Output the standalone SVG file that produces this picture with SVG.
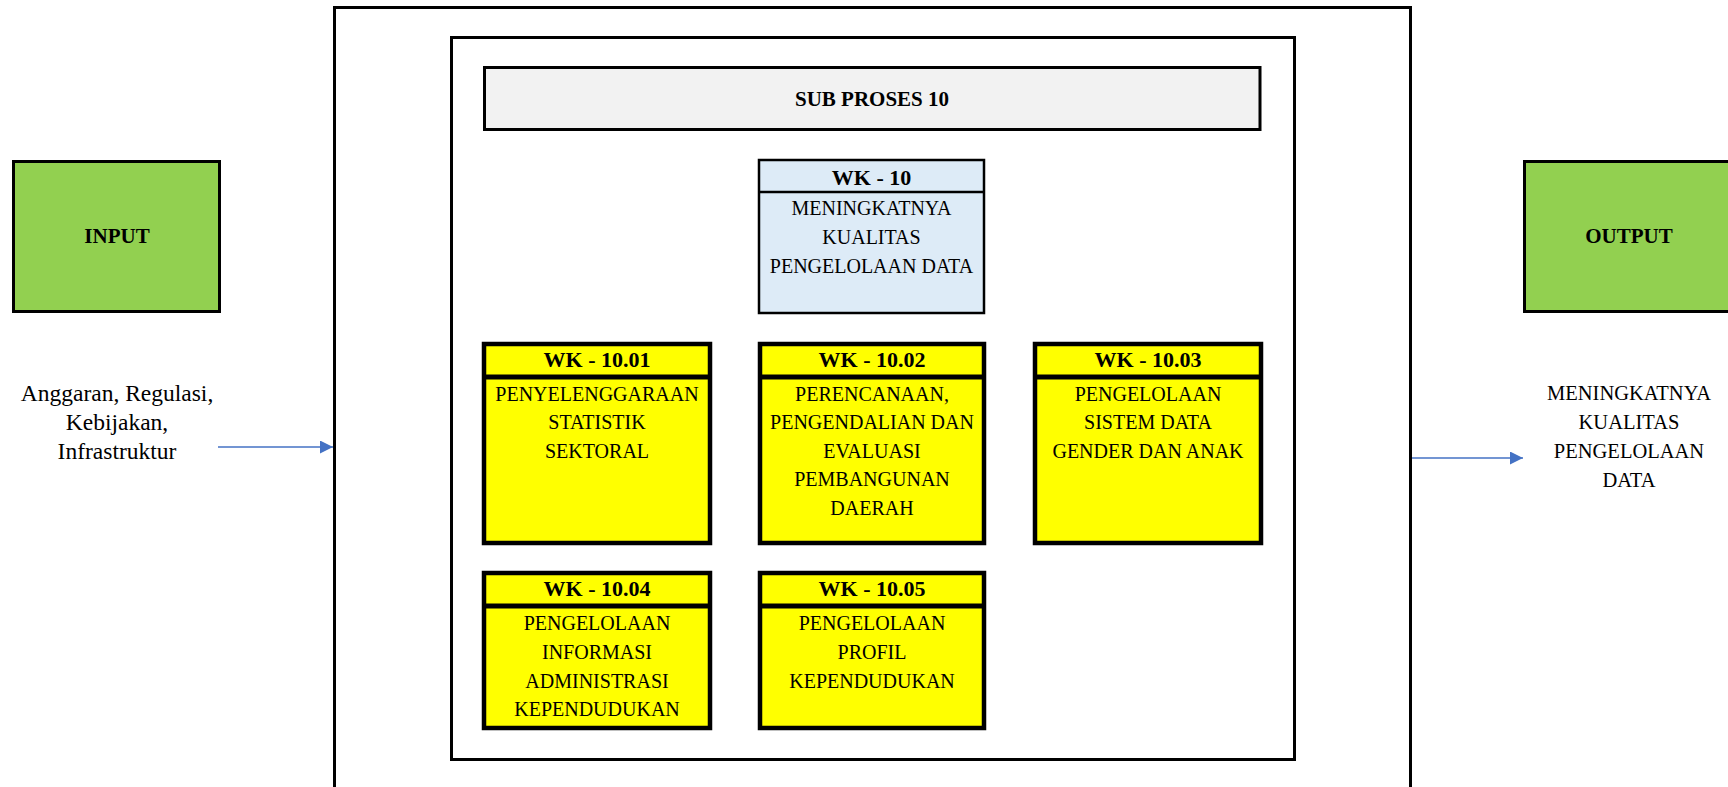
<svg xmlns="http://www.w3.org/2000/svg" width="1728" height="787" viewBox="0 0 1728 787">
<defs>
<style>
.frame{fill:#FFFFFF;stroke:#000;stroke-width:3}
.io{fill:#92D050;stroke:#000;stroke-width:3}
.sub{fill:#F2F2F2;stroke:#000;stroke-width:3}
.goal{fill:#DDEBF7;stroke:#000;stroke-width:2.5}
.goaldiv{stroke:#000;stroke-width:2.5}
.wk{fill:#FFFF00;stroke:#000;stroke-width:4.5}
.wkdiv{stroke:#000;stroke-width:5}
.t{font-family:"Liberation Serif","Times New Roman",serif;font-size:20px;fill:#000;text-anchor:middle}
.o{font-family:"Liberation Serif","Times New Roman",serif;font-size:20.5px;fill:#000;text-anchor:middle}
.h{font-family:"Liberation Serif","Times New Roman",serif;font-size:22px;font-weight:bold;fill:#000;text-anchor:middle}
.b{font-family:"Liberation Serif","Times New Roman",serif;font-size:21px;font-weight:bold;fill:#000;text-anchor:middle}
.lbl{font-family:"Liberation Serif","Times New Roman",serif;font-size:23.5px;fill:#000;text-anchor:middle}
.conn{stroke:#4472C4;stroke-width:1.5;fill:none}
</style>
<marker id="arr" viewBox="0 0 10 10" refX="10" refY="5" markerWidth="13" markerHeight="13" markerUnits="userSpaceOnUse" orient="auto">
<path d="M0,0 L10,5 L0,10 z" fill="#4472C4"/>
</marker>
</defs>
<rect width="1728" height="787" fill="#FFFFFF"/>

<g id="outer-frame"><rect class="frame" x="334.5" y="7.5" width="1076" height="800"/></g>
<g id="inner-frame"><rect class="frame" x="451.5" y="37.5" width="843" height="722"/></g>

<g id="sub-proses">
<rect class="sub" x="484.5" y="67.5" width="775.5" height="62"/>
<text class="b" x="872" y="106">SUB PROSES 10</text>
</g>

<g id="input">
<rect class="io" x="13.5" y="161.5" width="206" height="150"/>
<text class="b" x="117" y="243">INPUT</text>
</g>
<g id="input-label">
<text class="lbl" x="117" y="401">Anggaran, Regulasi,</text>
<text class="lbl" x="117" y="430">Kebijakan,</text>
<text class="lbl" x="117" y="459">Infrastruktur</text>
</g>

<g id="output">
<rect class="io" x="1524.5" y="161.5" width="250" height="150"/>
<text class="b" x="1629" y="243">OUTPUT</text>
</g>
<g id="output-label">
<text class="o" x="1629" y="400">MENINGKATNYA</text>
<text class="o" x="1629" y="429">KUALITAS</text>
<text class="o" x="1629" y="458">PENGELOLAAN</text>
<text class="o" x="1629" y="487">DATA</text>
</g>

<g id="wk-10">
<rect class="goal" x="759" y="160" width="225" height="153"/>
<line class="goaldiv" x1="759" y1="192" x2="984" y2="192"/>
<text class="h" x="871.5" y="185">WK - 10</text>
<text class="t" x="871.5" y="215">MENINGKATNYA</text>
<text class="t" x="871.5" y="244">KUALITAS</text>
<text class="t" x="871.5" y="273">PENGELOLAAN DATA</text>
</g>

<g id="wk-10-01">
<rect class="wk" x="484" y="344" width="226" height="199"/>
<line class="wkdiv" x1="484" y1="377" x2="710" y2="377"/>
<text class="h" x="597" y="367">WK - 10.01</text>
<text class="t" x="597" y="401">PENYELENGGARAAN</text>
<text class="t" x="597" y="429">STATISTIK</text>
<text class="t" x="597" y="458">SEKTORAL</text>
</g>

<g id="wk-10-02">
<rect class="wk" x="760" y="344" width="224" height="199"/>
<line class="wkdiv" x1="760" y1="377" x2="984" y2="377"/>
<text class="h" x="872" y="367">WK - 10.02</text>
<text class="t" x="872" y="401">PERENCANAAN,</text>
<text class="t" x="872" y="429">PENGENDALIAN DAN</text>
<text class="t" x="872" y="458">EVALUASI</text>
<text class="t" x="872" y="486">PEMBANGUNAN</text>
<text class="t" x="872" y="515">DAERAH</text>
</g>

<g id="wk-10-03">
<rect class="wk" x="1035" y="344" width="226" height="199"/>
<line class="wkdiv" x1="1035" y1="377" x2="1261" y2="377"/>
<text class="h" x="1148" y="367">WK - 10.03</text>
<text class="t" x="1148" y="401">PENGELOLAAN</text>
<text class="t" x="1148" y="429">SISTEM DATA</text>
<text class="t" x="1148" y="458">GENDER DAN ANAK</text>
</g>

<g id="wk-10-04">
<rect class="wk" x="484" y="573" width="226" height="155"/>
<line class="wkdiv" x1="484" y1="606" x2="710" y2="606"/>
<text class="h" x="597" y="596">WK - 10.04</text>
<text class="t" x="597" y="630">PENGELOLAAN</text>
<text class="t" x="597" y="659">INFORMASI</text>
<text class="t" x="597" y="688">ADMINISTRASI</text>
<text class="t" x="597" y="716">KEPENDUDUKAN</text>
</g>

<g id="wk-10-05">
<rect class="wk" x="760" y="573" width="224" height="155"/>
<line class="wkdiv" x1="760" y1="606" x2="984" y2="606"/>
<text class="h" x="872" y="596">WK - 10.05</text>
<text class="t" x="872" y="630">PENGELOLAAN</text>
<text class="t" x="872" y="659">PROFIL</text>
<text class="t" x="872" y="688">KEPENDUDUKAN</text>
</g>

<g id="connectors">
<line class="conn" x1="218" y1="447" x2="333" y2="447" marker-end="url(#arr)"/>
<line class="conn" x1="1412" y1="458" x2="1523" y2="458" marker-end="url(#arr)"/>
</g>
</svg>
